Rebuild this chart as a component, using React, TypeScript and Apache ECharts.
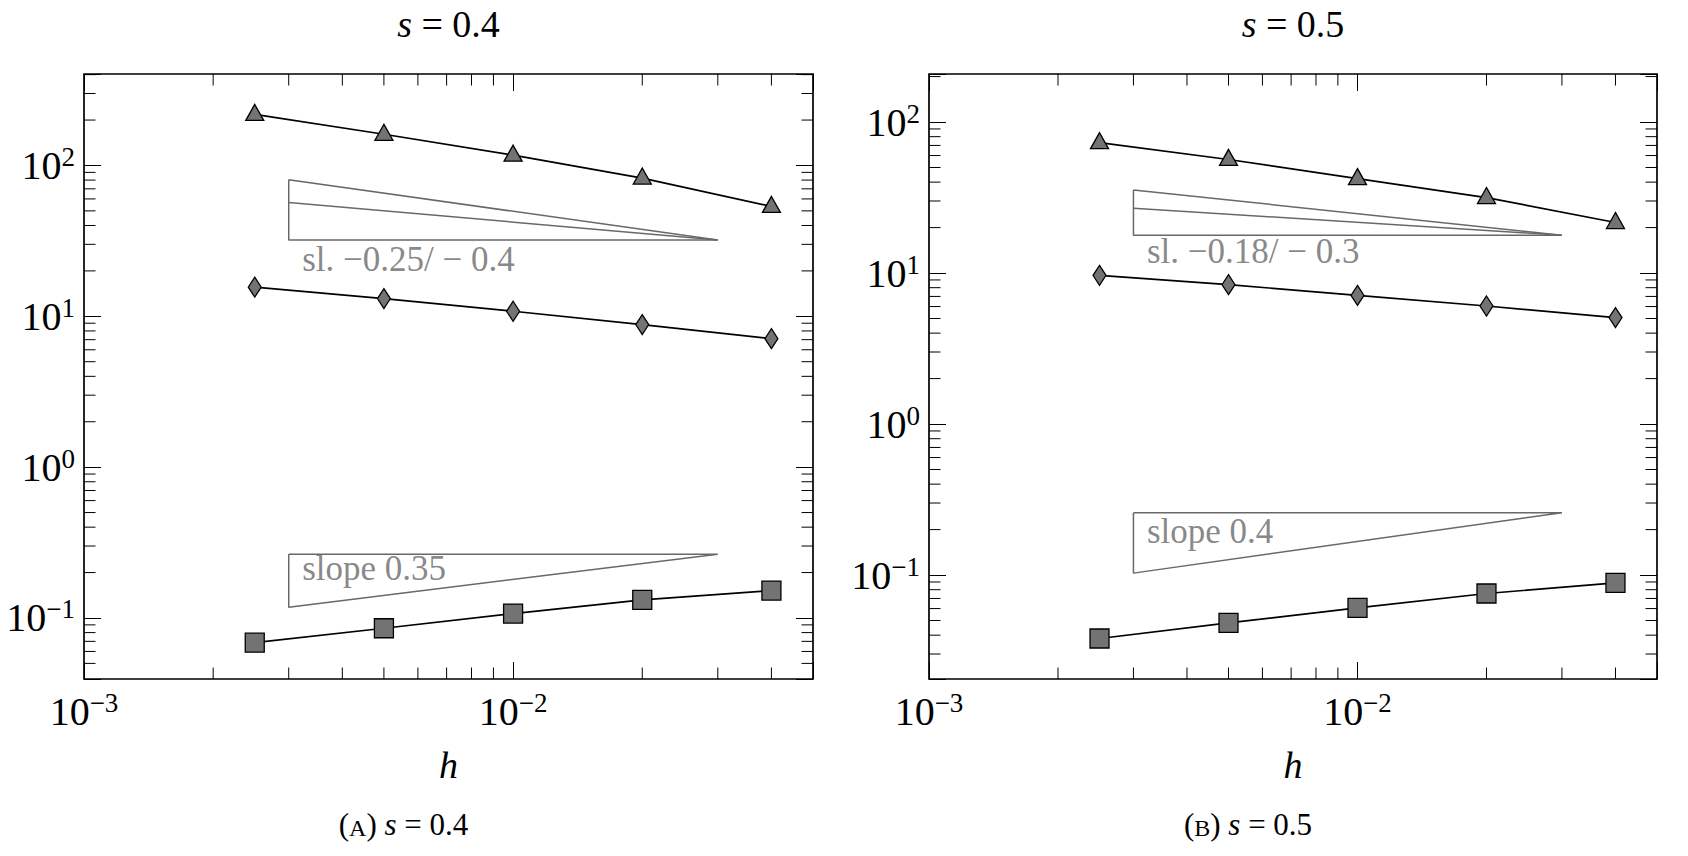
import React, { useEffect, useRef } from "react";
import * as echarts from "echarts";

const FONT = "'Liberation Serif', 'Times New Roman', serif";

// ---------- data ----------
const H_VALUES = [0.0025, 0.005, 0.01, 0.02, 0.04];

// panel (A) s = 0.4
const A_TRIANGLE = [218, 161, 117, 82.5, 53.5];
const A_DIAMOND = [15.6, 13.1, 10.8, 8.81, 7.11];
const A_SQUARE = [0.0686, 0.0855, 0.107, 0.132, 0.152];

// panel (B) s = 0.5
const B_TRIANGLE = [73, 56.5, 42.2, 31.6, 21.6];
const B_DIAMOND = [9.66, 8.38, 7.11, 6.05, 5.07];
const B_SQUARE = [0.038, 0.0482, 0.0607, 0.0755, 0.0888];

// axis ranges
const X_RANGE = [0.001, 0.05];
const A_Y_RANGE = [0.0394, 404];
const B_Y_RANGE = [0.0205, 208];

// tick labels (10^exp)
const X_TICKS = [0.001, 0.01];
const X_TICK_EXP = ["−3", "−2"];
const Y_TICKS = [0.1, 1, 10, 100];
const Y_TICK_EXP = ["−1", "0", "1", "2"];

// minor ticks
const X_MINOR = [0.002, 0.003, 0.004, 0.005, 0.006, 0.007, 0.008, 0.009, 0.02, 0.03, 0.04];
const A_Y_MINOR = [
  0.05, 0.06, 0.07, 0.08, 0.09, 0.2, 0.3, 0.4, 0.5, 0.6, 0.7, 0.8, 0.9,
  2, 3, 4, 5, 6, 7, 8, 9, 20, 30, 40, 50, 60, 70, 80, 90, 200, 300, 400,
];
const B_Y_MINOR = [
  0.03, 0.04, 0.05, 0.06, 0.07, 0.08, 0.09, 0.2, 0.3, 0.4, 0.5, 0.6, 0.7, 0.8, 0.9,
  2, 3, 4, 5, 6, 7, 8, 9, 20, 30, 40, 50, 60, 70, 80, 90, 200,
];

// slope triangles: h from SLOPE_H[0] to SLOPE_H[1]
const SLOPE_H = [0.003, 0.03];
const A_UPPER_BASE = 32;
const A_UPPER_LEFT = [56.9, 80.4]; // slopes -0.25 / -0.4
const A_LOWER_TOP = 0.265;
const A_LOWER_BOTTOM = 0.118; // slope 0.35
const B_UPPER_BASE = 17.8;
const B_UPPER_LEFT = [26.9, 35.5]; // slopes -0.18 / -0.3
const B_LOWER_TOP = 0.259;
const B_LOWER_BOTTOM = 0.103; // slope 0.4

const A_UPPER_LABEL = "sl. −0.25/ − 0.4";
const A_LOWER_LABEL = "slope 0.35";
const B_UPPER_LABEL = "sl. −0.18/ − 0.3";
const B_LOWER_LABEL = "slope 0.4";

const TITLES = ["0.4", "0.5"];
const CAPTION_LETTERS = ["A", "B"];

// ---------- styling ----------
const GRAY = "#686868";
const MARK_FILL = "#737373";
const MAJOR_LEN = 17;
const MINOR_LEN = 11.5;

const richTick = {
  b: { fontFamily: FONT, fontSize: 40, color: "#000", lineHeight: 44 },
  s: { fontFamily: FONT, fontSize: 27, color: "#000", verticalAlign: "top" },
};

function tickFormatter(ticks: number[], exps: string[]) {
  return (v: number) => {
    const i = ticks.findIndex((t) => Math.abs(t - v) / t < 1e-6);
    return i < 0 ? "" : `{b|10}{s|${exps[i]}}`;
  };
}

function buildOption() {
  const panels = [
    {
      grid: { left: 84, top: 74, width: 729, height: 605 },
      yRange: A_Y_RANGE,
      tri: A_TRIANGLE,
      dia: A_DIAMOND,
      sq: A_SQUARE,
      yMinor: A_Y_MINOR,
      upBase: A_UPPER_BASE,
      upLeft: A_UPPER_LEFT,
      lowTop: A_LOWER_TOP,
      lowBottom: A_LOWER_BOTTOM,
      upLabel: A_UPPER_LABEL,
      lowLabel: A_LOWER_LABEL,
      upLabelDy: 20,
      lowLabelDy: 15,
    },
    {
      grid: { left: 929, top: 74, width: 728, height: 605 },
      yRange: B_Y_RANGE,
      tri: B_TRIANGLE,
      dia: B_DIAMOND,
      sq: B_SQUARE,
      yMinor: B_Y_MINOR,
      upBase: B_UPPER_BASE,
      upLeft: B_UPPER_LEFT,
      lowTop: B_LOWER_TOP,
      lowBottom: B_LOWER_BOTTOM,
      upLabel: B_UPPER_LABEL,
      lowLabel: B_LOWER_LABEL,
      upLabelDy: 17,
      lowLabelDy: 19,
    },
  ];

  const grids: any[] = [];
  const xAxes: any[] = [];
  const yAxes: any[] = [];
  const series: any[] = [];
  const graphics: any[] = [];

  panels.forEach((p, pi) => {
    grids.push({
      ...p.grid,
      show: true,
      borderColor: "#000",
      borderWidth: 1.7,
      backgroundColor: "transparent",
      containLabel: false,
    });

    ["bottom", "top"].forEach((pos) => {
      xAxes.push({
        type: "log",
        logBase: 10,
        gridIndex: pi,
        position: pos,
        min: X_RANGE[0],
        max: X_RANGE[1],
        axisLine: { show: false },
        axisTick: { show: true, inside: true, length: MAJOR_LEN, lineStyle: { color: "#000", width: 1 } },
        splitLine: { show: false },
        minorTick: { show: false },
        axisLabel:
          pos === "bottom"
            ? {
                show: true,
                margin: 10,
                formatter: tickFormatter(X_TICKS, X_TICK_EXP),
                rich: richTick,
                showMinLabel: true,
                showMaxLabel: true,
              }
            : { show: false },
        name: pos === "bottom" ? "h" : "",
        nameLocation: "middle",
        nameGap: 67,
        nameTextStyle: { fontFamily: FONT, fontSize: 38, fontStyle: "italic", color: "#000" },
      });
    });

    ["left", "right"].forEach((pos) => {
      yAxes.push({
        type: "log",
        logBase: 10,
        gridIndex: pi,
        position: pos,
        min: p.yRange[0],
        max: p.yRange[1],
        axisLine: { show: false },
        axisTick: { show: true, inside: true, length: MAJOR_LEN, lineStyle: { color: "#000", width: 1 } },
        splitLine: { show: false },
        minorTick: { show: false },
        axisLabel:
          pos === "left"
            ? {
                show: true,
                margin: 9,
                formatter: tickFormatter(Y_TICKS, Y_TICK_EXP),
                rich: richTick,
                showMinLabel: true,
                showMaxLabel: true,
              }
            : { show: false },
      });
    });

    const ax = pi * 2;

    // slope indicator triangles
    const slopeLine = {
      type: "line",
      xAxisIndex: ax,
      yAxisIndex: ax,
      symbol: "none",
      silent: true,
      z: 1,
      lineStyle: { color: GRAY, width: 1.5 },
    };
    series.push({
      ...slopeLine,
      data: [
        [SLOPE_H[0], p.upLeft[1]],
        [SLOPE_H[1], p.upBase],
        [SLOPE_H[0], p.upBase],
        [SLOPE_H[0], p.upLeft[1]],
      ],
    });
    series.push({
      ...slopeLine,
      data: [
        [SLOPE_H[0], p.upLeft[0]],
        [SLOPE_H[1], p.upBase],
      ],
    });
    series.push({
      ...slopeLine,
      data: [
        [SLOPE_H[0], p.lowTop],
        [SLOPE_H[1], p.lowTop],
        [SLOPE_H[0], p.lowBottom],
        [SLOPE_H[0], p.lowTop],
      ],
    });

    // slope labels
    series.push({
      type: "scatter",
      xAxisIndex: ax,
      yAxisIndex: ax,
      silent: true,
      symbolSize: 1,
      itemStyle: { color: "rgba(0,0,0,0)" },
      z: 1,
      data: [
        {
          value: [SLOPE_H[0], p.upBase],
          label: { show: true, formatter: p.upLabel, position: [14, p.upLabelDy] },
        },
        {
          value: [SLOPE_H[0], p.lowTop],
          label: { show: true, formatter: p.lowLabel, position: [14, p.lowLabelDy] },
        },
      ],
      label: {
        show: true,
        align: "left",
        verticalAlign: "middle",
        fontFamily: FONT,
        fontSize: 35,
        color: GRAY,
      },
    });

    // minor ticks on x (bottom & top)
    series.push({
      type: "custom",
      coordinateSystem: "cartesian2d",
      xAxisIndex: ax,
      yAxisIndex: ax,
      silent: true,
      clip: false,
      z: 3,
      data: X_MINOR.map((v) => [v, 1]),
      renderItem: (params: any, api: any) => {
        const cs = params.coordSys;
        const x = api.coord([api.value(0), 1])[0];
        const st = { stroke: "#000", lineWidth: 1 };
        return {
          type: "group",
          children: [
            { type: "line", shape: { x1: x, y1: cs.y + cs.height, x2: x, y2: cs.y + cs.height - MINOR_LEN }, style: st },
            { type: "line", shape: { x1: x, y1: cs.y, x2: x, y2: cs.y + MINOR_LEN }, style: st },
          ],
        };
      },
    });
    // minor ticks on y (left & right)
    series.push({
      type: "custom",
      coordinateSystem: "cartesian2d",
      xAxisIndex: ax,
      yAxisIndex: ax,
      silent: true,
      clip: false,
      z: 3,
      data: p.yMinor.map((v) => [0.01, v]),
      renderItem: (params: any, api: any) => {
        const cs = params.coordSys;
        const y = api.coord([0.01, api.value(1)])[1];
        const st = { stroke: "#000", lineWidth: 1 };
        return {
          type: "group",
          children: [
            { type: "line", shape: { x1: cs.x, y1: y, x2: cs.x + MINOR_LEN, y2: y }, style: st },
            { type: "line", shape: { x1: cs.x + cs.width, y1: y, x2: cs.x + cs.width - MINOR_LEN, y2: y }, style: st },
          ],
        };
      },
    });

    // data series
    const dataLine = (vals: number[], symbol: string, size: any, offset: number[]) => ({
      type: "line",
      xAxisIndex: ax,
      yAxisIndex: ax,
      data: H_VALUES.map((h, i) => [h, vals[i]]),
      symbol,
      symbolSize: size,
      symbolOffset: offset,
      showAllSymbol: true,
      z: 5,
      lineStyle: { color: "#000", width: 1.7 },
      itemStyle: { color: MARK_FILL, borderColor: "#000", borderWidth: 1.3 },
    });
    series.push(dataLine(p.tri, "triangle", [18, 16], [0, -2]));
    series.push(dataLine(p.dia, "diamond", [13, 20], [0, 0]));
    series.push(dataLine(p.sq, "rect", [19, 19], [0, 0]));

    // title and caption
    const cx = p.grid.left + p.grid.width / 2;
    graphics.push({
      type: "text",
      x: cx,
      y: 24,
      style: {
        text: `{i|s}{n| = ${TITLES[pi]}}`,
        align: "center",
        verticalAlign: "middle",
        fill: "#000",
        fontFamily: FONT,
        fontSize: 38,
        rich: {
          i: { fontFamily: FONT, fontSize: 38, fontStyle: "italic", fill: "#000" },
          n: { fontFamily: FONT, fontSize: 38, fill: "#000" },
        },
      },
    });
    graphics.push({
      type: "text",
      x: cx - 45,
      y: 824,
      style: {
        text: `{n|(}{sc|${CAPTION_LETTERS[pi]}}{n|) }{i|s}{n| = ${TITLES[pi]}}`,
        align: "center",
        verticalAlign: "middle",
        fill: "#000",
        fontFamily: FONT,
        fontSize: 31,
        rich: {
          n: { fontFamily: FONT, fontSize: 31, fill: "#000", verticalAlign: "bottom" },
          sc: { fontFamily: FONT, fontSize: 24, fill: "#000", verticalAlign: "bottom" },
          i: { fontFamily: FONT, fontSize: 31, fontStyle: "italic", fill: "#000", verticalAlign: "bottom" },
        },
      },
    });
  });

  return {
    animation: false,
    backgroundColor: "#fff",
    textStyle: { fontFamily: FONT },
    grid: grids,
    xAxis: xAxes,
    yAxis: yAxes,
    series,
    graphic: graphics,
  };
}

export default function App() {
  const ref = useRef<HTMLDivElement>(null);
  useEffect(() => {
    const chart = echarts.init(ref.current!, null, { renderer: "svg" });
    chart.setOption(buildOption() as any);
    return () => chart.dispose();
  }, []);
  return (
    <div
      ref={ref}
      style={{ position: "fixed", left: 0, top: 0, width: 1688, height: 856, background: "#fff" }}
    />
  );
}
